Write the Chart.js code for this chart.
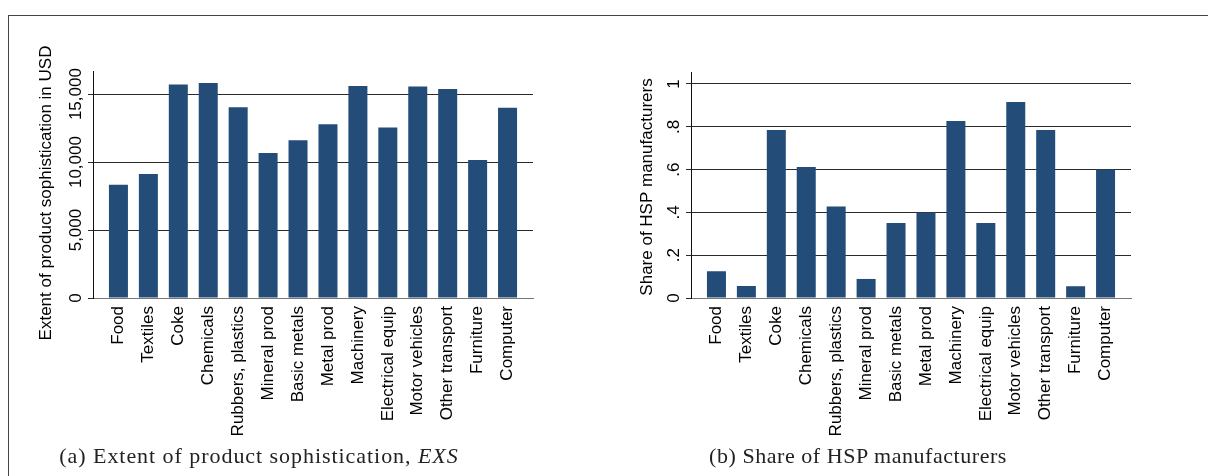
<!DOCTYPE html>
<html>
<head>
<meta charset="utf-8">
<script src="https://cdn.jsdelivr.net/npm/chart.js@4"></script>
<style>
  body { margin: 0; background: #fff; width: 1208px; height: 476px; overflow: hidden; position: relative; }
  #frame { position: absolute; left: 8px; top: 15px; width: 1300px; height: 600px; border: 1px solid #444; }
  canvas { position: absolute; top: 0; }
  .cap { position: absolute; top: 444px; font-family: "Liberation Serif", "Times New Roman", serif; font-size: 22px; line-height: 24px; color: #222; white-space: nowrap; transform: translateX(-50%); }
</style>
</head>
<body>
<div id="frame"></div>
<canvas id="chartA" width="600" height="476" style="left:0px"></canvas>
<canvas id="chartB" width="608" height="476" style="left:600px"></canvas>
<div class="cap" style="left:259px; letter-spacing:0.95px">(a) Extent of product sophistication, <i>EXS</i></div>
<div class="cap" style="left:858px; letter-spacing:0.55px">(b) Share of HSP manufacturers</div>
<script>
// industries on the x axis (same for both panels)
const industries = ["Food", "Textiles", "Coke", "Chemicals", "Rubbers, plastics", "Mineral prod", "Basic metals",
  "Metal prod", "Machinery", "Electrical equip", "Motor vehicles", "Other transport", "Furniture", "Computer"];

// panel (a): extent of product sophistication, USD
const exsValues = [8330, 9120, 15710, 15810, 14040, 10660, 11600, 12790, 15590, 12550, 15560, 15370, 10150, 14000];
const exsTicks = [0, 5000, 10000, 15000];
const exsTickLabels = ["0", "5,000", "10,000", "15,000"];

// panel (b): share of HSP manufacturers
const hspValues = [0.125, 0.056, 0.785, 0.612, 0.427, 0.089, 0.350, 0.399, 0.827, 0.350, 0.916, 0.785, 0.055, 0.600];
const hspTicks = [0, 0.2, 0.4, 0.6, 0.8, 1];
const hspTickLabels = ["0", ".2", ".4", ".6", ".8", "1"];

const BAR = "#234d78";
const FONT = "'Liberation Sans', Arial, sans-serif";

// draws rotated y tick labels + axis title (Stata style, reading bottom to top)
const rotatedYLabels = {
  id: "rotatedYLabels",
  afterDraw(chart, args, opts) {
    const ctx = chart.ctx;
    const ys = chart.scales.y;
    ctx.save();
    ctx.fillStyle = "#000";
    ctx.font = "17px " + FONT;
    ctx.textAlign = "center";
    ctx.textBaseline = "middle";
    opts.ticks.forEach((v, i) => {
      const py = ys.getPixelForValue(v);
      ctx.save();
      ctx.translate(opts.tickX, py);
      ctx.rotate(-Math.PI / 2);
      ctx.fillText(opts.labels[i], 0, 0);
      ctx.restore();
    });
    ctx.translate(opts.titleX, opts.titleY);
    ctx.rotate(-Math.PI / 2);
    ctx.fillText(opts.title, 0, 0);
    ctx.restore();
  }
};

function makeChart(id, values, ticks, labels, ymax, pad, plug) {
  return new Chart(document.getElementById(id), {
    type: "bar",
    data: {
      datasets: [{
        data: values.map((v, i) => ({ x: i, y: v })),
        backgroundColor: BAR,
        borderWidth: 0,
        barPercentage: 0.635,
        categoryPercentage: 1
      }]
    },
    options: {
      responsive: false,
      animation: false,
      layout: { padding: pad },
      plugins: { legend: { display: false }, tooltip: { enabled: false }, rotatedYLabels: Object.assign({ ticks: ticks, labels: labels }, plug) },
      scales: {
        x: {
          type: "linear",
          offset: false,
          min: -0.85,
          max: 13.85,
          afterBuildTicks: s => { s.ticks = industries.map((c, i) => ({ value: i })); },
          afterFit: s => { s.height = 178; },
          grid: { display: false, offset: false },
          border: { display: true, color: "#777", width: 1 },
          ticks: {
            autoSkip: false,
            minRotation: 90,
            maxRotation: 90,
            padding: 0,
            color: "#000",
            font: { family: FONT, size: 17 },
            callback: v => industries[v]
          }
        },
        y: {
          min: 0,
          max: ymax,
          afterBuildTicks: s => { s.ticks = ticks.map(v => ({ value: v })); },
          afterFit: s => { s.width = 20; },
          grid: { color: "#2a2a2a", lineWidth: 1, tickLength: 5, drawTicks: true },
          border: { display: true, color: "#111", width: 1 },
          ticks: { display: false }
        }
      }
    },
    plugins: [rotatedYLabels]
  });
}

makeChart("chartA", exsValues, exsTicks, exsTickLabels, 16700,
  { left: 73, top: 71, right: 67, bottom: 0 },
  { tickX: 76, titleX: 46, titleY: 193, title: "Extent of product sophistication in USD" });

makeChart("chartB", hspValues, hspTicks, hspTickLabels, 1.056,
  { left: 71, top: 72, right: 77, bottom: 0 },
  { tickX: 74, titleX: 47, titleY: 187, title: "Share of HSP manufacturers" });
</script>
</body>
</html>
